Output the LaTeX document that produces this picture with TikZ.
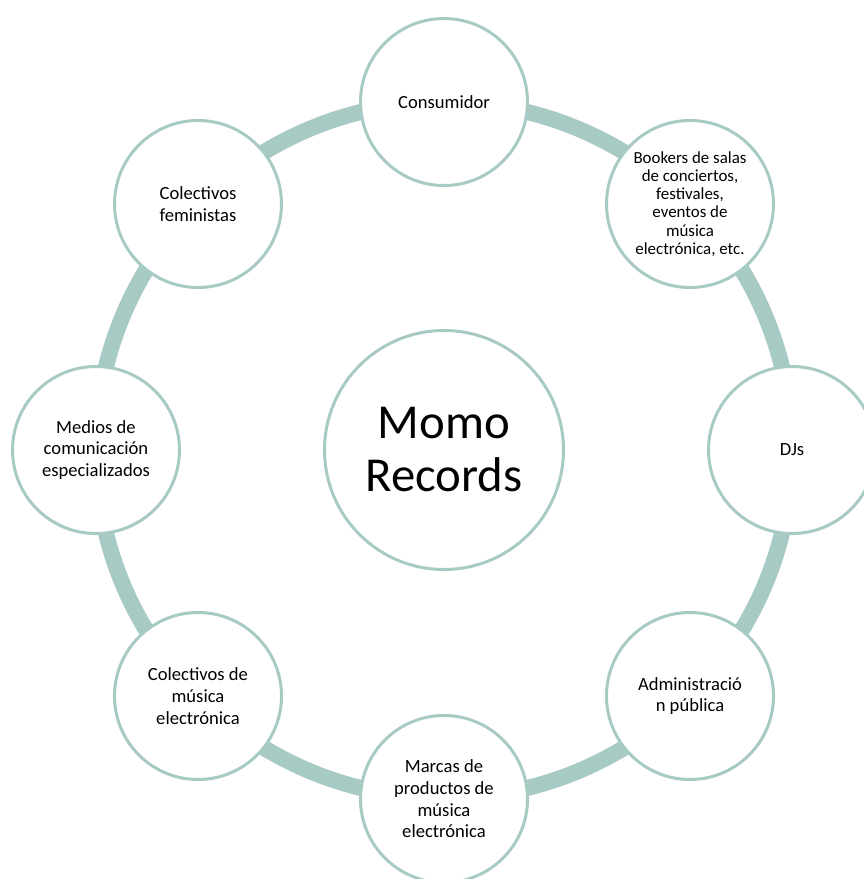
\documentclass[tikz,border=0pt]{standalone}
\usepackage{fontspec}
\setmainfont{Carlito}
\definecolor{ringcol}{RGB}{168,202,197}
\begin{document}
\begin{tikzpicture}[x=1pt,y=-1pt,
  sat/.style={circle, draw=ringcol, line width=3pt, fill=white, minimum size=167pt, inner sep=0pt, align=center, font=\fontsize{18.6}{21.7}\selectfont},
  hub/.style={circle, draw=ringcol, line width=3pt, fill=white, minimum size=239pt, inner sep=0pt, align=center, font=\fontsize{48.8}{53}\selectfont}]
\useasboundingbox (0,0) rectangle (864,879);
\coordinate (c) at (444,450);
\draw[ringcol, line width=16pt] (c) circle[radius=348pt];
\node[hub] (hub) at (c) {Momo\\Records};
\node[sat] (cons) at (444,102) {Consumidor};
\node[sat, font=\fontsize{16.9}{18.3}\selectfont] (book) at (690,204) {Bookers de salas\\de conciertos,\\festivales,\\eventos de\\música\\electrónica, etc.};
\node[sat] (djs) at (792,450) {DJs};
\node[sat] (adm) at (690,696) {Administració\\n pública};
\node[sat] (marc) at (444,799) {Marcas de\\productos de\\música\\electrónica};
\node[sat] (cme) at (198,696) {Colectivos de\\música\\electrónica};
\node[sat] (med) at (96,450) {Medios de\\comunicación\\especializados};
\node[sat] (fem) at (198,204) {Colectivos\\feministas};
\end{tikzpicture}
\end{document}
